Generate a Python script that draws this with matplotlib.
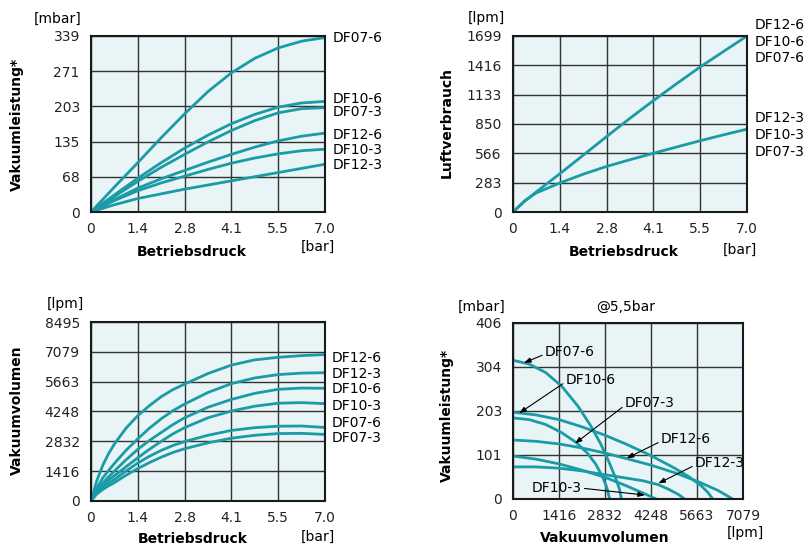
import matplotlib
matplotlib.use("Agg")
import matplotlib.pyplot as plt
import matplotlib.transforms as mtransforms

# Farben / Stil
TEAL = "#1a9ba6"
BG = "#e8f4f6"
GRID = "#333333"

plt.rcParams["font.family"] = ["DejaVu Sans"]
plt.rcParams["font.size"] = 10
plt.rcParams["lines.solid_joinstyle"] = "round"
plt.rcParams["lines.solid_capstyle"] = "round"

# ---- Daten ----
# Betriebsdruck [bar], Ticks
druck_ticks = [0, 1.38, 2.76, 4.14, 5.52, 6.9]
druck_labels = ["0", "1.4", "2.8", "4.1", "5.5", "7.0"]

# Diagramm 1: Vakuumleistung [mbar] vs Betriebsdruck
vl_ticks = [0, 67.8, 135.6, 203.4, 271.2, 339]
vl_labels = ["0", "68", "135", "203", "271", "339"]
x1 = [0, 0.69, 1.38, 2.07, 2.76, 3.45, 4.14, 4.83, 5.52, 6.21, 6.9]
vl_df07_6 = [0, 48, 95, 143, 189, 232, 268, 296, 316, 329, 336]
vl_df10_6 = [0, 33, 65, 95, 123, 148, 170, 188, 202, 210, 213]
vl_df07_3 = [0, 30, 59, 86, 111, 135, 157, 176, 191, 199, 201]
vl_df12_6 = [0, 24, 46, 64, 80, 96, 111, 125, 137, 146, 152]
vl_df10_3 = [0, 22, 41, 56, 69, 82, 94, 104, 112, 118, 121]
vl_df12_3 = [0, 14, 26, 35, 44, 52, 60, 68, 76, 84, 92]
vl_names = ["DF07-6", "DF10-6", "DF07-3", "DF12-6", "DF10-3", "DF12-3"]
vl_label_y = [335, 217, 193, 148, 119, 90]

# Diagramm 2: Luftverbrauch [lpm]
lv_ticks = [0, 283, 566, 850, 1133, 1416, 1699]
x2 = [0, 0.35, 0.69, 1.38, 2.07, 2.76, 3.45, 4.14, 4.83, 5.52, 6.21, 6.9]
lv_6 = [0, 105, 195, 369, 548, 728, 905, 1075, 1240, 1400, 1550, 1699]
lv_3 = [0, 110, 185, 280, 365, 440, 505, 567, 628, 688, 745, 800]
lv_names = ["DF12-6", "DF10-6", "DF07-6", "DF12-3", "DF10-3", "DF07-3"]
lv_label_y = [1805, 1641, 1487, 908, 744, 580]

# Diagramm 3: Vakuumvolumen [lpm] vs Betriebsdruck
vv_ticks = [0, 1416, 2832, 4248, 5663, 7079, 8495]
x3 = [0, 0.17, 0.35, 0.52, 0.69, 1.03, 1.38, 1.72, 2.07, 2.41, 2.76,
      3.45, 4.14, 4.83, 5.52, 6.21, 6.9]
vv_df12_6 = [0, 950, 1700, 2250, 2700, 3450, 4050, 4520, 4950, 5280, 5550,
             6050, 6450, 6700, 6820, 6900, 6950]
vv_df12_3 = [0, 600, 1100, 1450, 1780, 2400, 2950, 3450, 3900, 4280, 4600,
             5150, 5570, 5840, 6000, 6070, 6090]
vv_df10_6 = [0, 500, 850, 1150, 1420, 1950, 2450, 2870, 3250, 3620, 3950,
             4450, 4820, 5110, 5300, 5360, 5350]
vv_df10_3 = [0, 450, 750, 1000, 1200, 1620, 2050, 2450, 2830, 3180, 3480,
             3950, 4270, 4500, 4640, 4670, 4620]
vv_df07_6 = [0, 380, 650, 850, 1020, 1420, 1800, 2120, 2400, 2630, 2820,
             3120, 3350, 3480, 3550, 3560, 3490]
vv_df07_3 = [0, 330, 550, 720, 870, 1220, 1540, 1820, 2080, 2300, 2480,
             2760, 2980, 3120, 3200, 3210, 3160]
vv_names = ["DF12-6", "DF12-3", "DF10-6", "DF10-3", "DF07-6", "DF07-3"]
vv_label_y = [6772, 6027, 5315, 4509, 3688, 2976]

# Diagramm 4: Vakuumleistung [mbar] vs Vakuumvolumen [lpm] @5,5bar
kl_x_ticks = [0, 1416, 2832, 4248, 5663, 7079]
kl_y_ticks = [0, 101.5, 203, 304.5, 406]
kl_y_labels = ["0", "101", "203", "304", "406"]
kl_df07_6_x = [0, 500, 1000, 1500, 2000, 2400, 2700, 2950, 3150, 3280, 3336]
kl_df07_6_y = [320, 311, 292, 260, 214, 168, 127, 86, 50, 22, 0]
kl_df07_3_x = [0, 500, 1000, 1500, 1950, 2300, 2550, 2750, 2880, 2977]
kl_df07_3_y = [187, 183, 172, 153, 130, 105, 80, 52, 28, 0]
kl_df10_6_x = [0, 700, 1416, 2100, 2832, 3500, 4248, 5000, 5400, 5800, 6000, 6148]
kl_df10_6_y = [200, 194, 183, 167, 147, 126, 100, 70, 52, 30, 15, 0]
kl_df12_6_x = [0, 700, 1416, 2100, 2832, 3500, 4248, 5000, 5700, 6300, 6762]
kl_df12_6_y = [136, 133, 127, 118, 106, 93, 78, 60, 40, 20, 0]
kl_df10_3_x = [0, 700, 1416, 2100, 2832, 3500, 4050, 4410]
kl_df10_3_y = [99, 92, 81, 67, 50, 30, 12, 0]
kl_df12_3_x = [0, 700, 1416, 2100, 2832, 3500, 4000, 4472, 4800, 5100, 5280]
kl_df12_3_y = [74, 74, 71, 65, 56, 48, 42, 33, 22, 10, 0]

# Beschriftungen (Text-Position, Pfeilspitze) in Datenkoordinaten
kl_names = ["DF07-6", "DF10-6", "DF07-3", "DF12-6", "DF12-3", "DF10-3"]
kl_text_xy = [(985, 339), (1622, 275), (3447, 221), (4555, 138), (5602, 83), (576, 25)]
kl_tip_xy = [(339, 314), (194, 198), (1908, 128), (3500, 94), (4472, 36), (4063, 9)]


def style_axes(ax, xlim, ylim, xticks, xlabels, yticks, ylabels):
    ax.set_facecolor(BG)
    ax.set_xlim(*xlim)
    ax.set_ylim(*ylim)
    ax.set_xticks(xticks)
    ax.set_xticklabels(xlabels)
    ax.set_yticks(yticks)
    ax.set_yticklabels(ylabels)
    ax.tick_params(length=0, labelsize=10, colors="#222222")
    ax.tick_params(axis="x", pad=7)
    ax.tick_params(axis="y", pad=8)
    ax.grid(True, color=GRID, linewidth=1.0)
    ax.set_axisbelow(True)
    for sp in ax.spines.values():
        sp.set_linewidth(1.5)
        sp.set_color("#1a1a1a")


fig = plt.figure(figsize=(8.1, 5.47), dpi=100)

ax1 = fig.add_axes([0.1123, 0.6124, 0.2889, 0.3218])
ax2 = fig.add_axes([0.6333, 0.6124, 0.2889, 0.3218])
ax3 = fig.add_axes([0.1123, 0.0841, 0.2889, 0.3272])
ax4 = fig.add_axes([0.6333, 0.0878, 0.2840, 0.3218])

# --- 1 ---
style_axes(ax1, (0, 6.9), (0, 339), druck_ticks, druck_labels, vl_ticks, vl_labels)
for ys in [vl_df07_6, vl_df10_6, vl_df07_3, vl_df12_6, vl_df10_3, vl_df12_3]:
    ax1.plot(x1, ys, color=TEAL, lw=2.0)
tr = mtransforms.blended_transform_factory(ax1.transAxes, ax1.transData)
for name, y in zip(vl_names, vl_label_y):
    ax1.text(1.034, y, name, transform=tr, ha="left", va="center", clip_on=False)
ax1.text(-0.141, 1.10, "[mbar]", transform=ax1.transAxes, ha="center", va="center")
ax1.text(0.97, -0.197, "[bar]", transform=ax1.transAxes, ha="center", va="center")
ax1.text(0.432, -0.225, "Betriebsdruck", transform=ax1.transAxes, ha="center", va="center",
         fontweight="bold")
ax1.text(-0.316, 0.5, "Vakuumleistung*", transform=ax1.transAxes, ha="center", va="center",
         rotation=90, fontweight="bold")

# --- 2 ---
style_axes(ax2, (0, 6.9), (0, 1699), druck_ticks, druck_labels, lv_ticks,
           [str(v) for v in lv_ticks])
ax2.plot(x2, lv_6, color=TEAL, lw=2.0)
ax2.plot(x2, lv_3, color=TEAL, lw=2.0)
tr = mtransforms.blended_transform_factory(ax2.transAxes, ax2.transData)
for name, y in zip(lv_names, lv_label_y):
    ax2.text(1.031, y, name, transform=tr, ha="left", va="center", clip_on=False)
ax2.text(-0.115, 1.10, "[lpm]", transform=ax2.transAxes, ha="center", va="center")
ax2.text(0.97, -0.215, "[bar]", transform=ax2.transAxes, ha="center", va="center")
ax2.text(0.475, -0.225, "Betriebsdruck", transform=ax2.transAxes, ha="center", va="center",
         fontweight="bold")
ax2.text(-0.283, 0.508, "Luftverbrauch", transform=ax2.transAxes, ha="center", va="center",
         rotation=90, fontweight="bold")

# --- 3 ---
style_axes(ax3, (0, 6.9), (0, 8495), druck_ticks, druck_labels, vv_ticks,
           [str(v) for v in vv_ticks])
for ys in [vv_df12_6, vv_df12_3, vv_df10_6, vv_df10_3, vv_df07_6, vv_df07_3]:
    ax3.plot(x3, ys, color=TEAL, lw=2.0)
tr = mtransforms.blended_transform_factory(ax3.transAxes, ax3.transData)
for name, y in zip(vv_names, vv_label_y):
    ax3.text(1.029, y, name, transform=tr, ha="left", va="center", clip_on=False)
ax3.text(-0.111, 1.10, "[lpm]", transform=ax3.transAxes, ha="center", va="center")
ax3.text(0.97, -0.20, "[bar]", transform=ax3.transAxes, ha="center", va="center")
ax3.text(0.434, -0.212, "Betriebsdruck", transform=ax3.transAxes, ha="center", va="center",
         fontweight="bold")
ax3.text(-0.318, 0.508, "Vakuumvolumen", transform=ax3.transAxes, ha="center", va="center",
         rotation=90, fontweight="bold")

# --- 4 ---
style_axes(ax4, (0, 7079), (0, 406), kl_x_ticks, [str(v) for v in kl_x_ticks],
           kl_y_ticks, kl_y_labels)
for xs, ys in [(kl_df07_6_x, kl_df07_6_y), (kl_df07_3_x, kl_df07_3_y),
               (kl_df10_6_x, kl_df10_6_y), (kl_df12_6_x, kl_df12_6_y),
               (kl_df10_3_x, kl_df10_3_y), (kl_df12_3_x, kl_df12_3_y)]:
    ax4.plot(xs, ys, color=TEAL, lw=2.0)
for name, txy, tip in zip(kl_names, kl_text_xy, kl_tip_xy):
    relpos = (1, 0.5) if name == "DF10-3" else (0, 0.35)
    ax4.annotate(name, xy=tip, xytext=txy, ha="left", va="center", fontsize=10,
                 arrowprops=dict(arrowstyle="-|>,head_length=0.4,head_width=0.15",
                                 color="black", lw=0.8, relpos=relpos,
                                 shrinkA=0, shrinkB=0))
ax4.text(-0.136, 1.093, "[mbar]", transform=ax4.transAxes, ha="center", va="center")
ax4.text(0.491, 1.093, "@5,5bar", transform=ax4.transAxes, ha="center", va="center")
ax4.text(1.009, -0.195, "[lpm]", transform=ax4.transAxes, ha="center", va="center")
ax4.text(0.40, -0.222, "Vakuumvolumen", transform=ax4.transAxes, ha="center", va="center",
         fontweight="bold")
ax4.text(-0.288, 0.477, "Vakuumleistung*", transform=ax4.transAxes, ha="center", va="center",
         rotation=90, fontweight="bold")

fig.savefig("out.png", dpi=100)
